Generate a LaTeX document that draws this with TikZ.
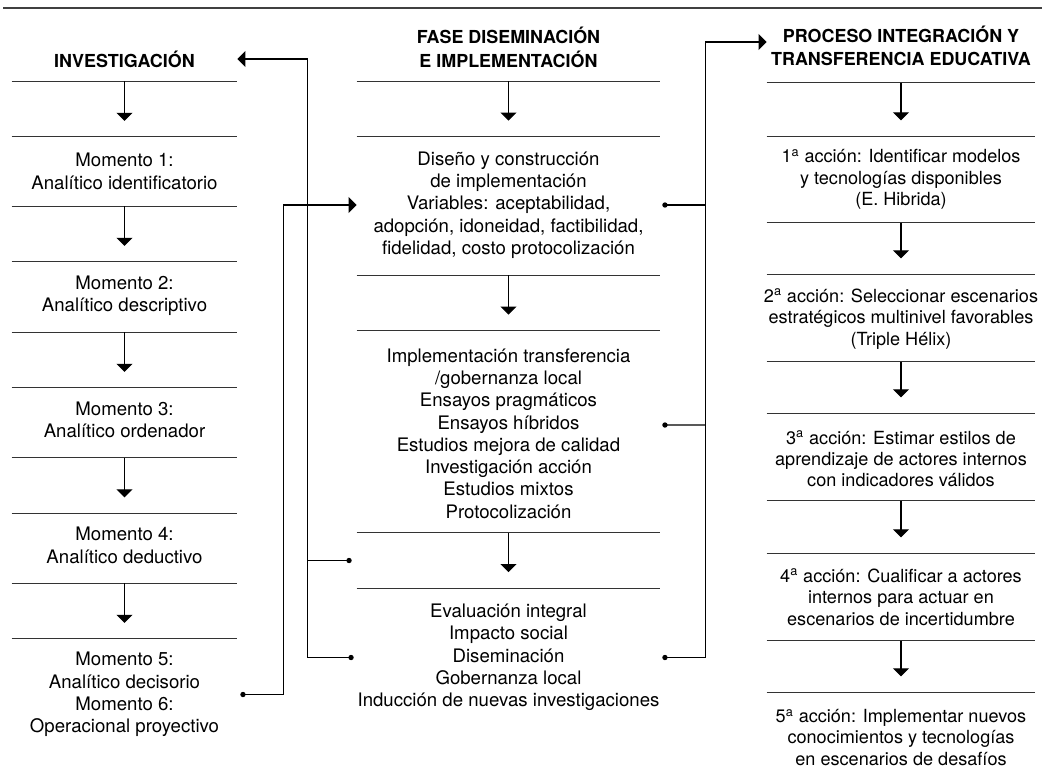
\documentclass[tikz,border=0pt]{standalone}
\usepackage{fontspec}
\setmainfont{TeX Gyre Heros}
\usetikzlibrary{arrows.meta,calc}
\tikzset{
  sepline/.style={line width=0.6pt, black!80},
  downarrow/.style={-{Triangle[length=4.6pt, width=9pt]}, line width=0.6pt},
  linkarrow/.style={{Circle[length=3pt]}-{Triangle[length=4.6pt, width=9pt]}, line width=0.6pt},
  linkline/.style={{Circle[length=3pt]}-, line width=0.6pt},
  headnode/.style={align=center, inner sep=0pt, font=\fontsize{10.2}{12.8}\selectfont\bfseries},
  invnode/.style={align=center, inner sep=0pt, minimum width=4.5cm, font=\fontsize{10.6}{12.75}\selectfont},
  fasenode/.style={align=center, inner sep=0pt, minimum width=6.06cm, font=\fontsize{10.6}{12.7}\selectfont},
  accnode/.style={align=center, inner sep=0pt, minimum width=5.36cm, font=\fontsize{10.3}{12.2}\selectfont},
  gapbox/.style={inner sep=0pt, minimum height=#1}
}

\begin{document}
\begin{tikzpicture}[x=0.02cm, y=-0.02cm]
  \useasboundingbox (0,0) rectangle (1042,779);
  \draw[line width=0.8pt, black!75] (3,8) -- (1042,8);

  \node[headnode, minimum width=4.5cm] (inv) at (124.5,59) {INVESTIGACIÓN};
  \node[invnode] (m1) at (124.5,171.5) {Momento 1:\\Analítico identificatorio};
  \node[invnode] (m2) at (124.5,296) {Momento 2:\\Analítico descriptivo};
  \node[invnode] (m3) at (124.5,420) {Momento 3:\\Analítico ordenador};
  \node[invnode] (m4) at (124.5,545.5) {Momento 4:\\Analítico deductivo};
  \node[invnode] (m56) at (124.5,694.5) {Momento 5:\\Analítico decisorio\\Momento 6:\\Operacional proyectivo};

  \node[headnode, minimum width=6.06cm, font=\fontsize{10.2}{13.6}\selectfont\bfseries] (fase) at (508.5,47) {FASE DISEMINACIÓN\\E IMPLEMENTACIÓN};
  \node[fasenode] (dis) at (508.5,205) {Diseño y construcción\\de implementación\\Variables: aceptabilidad,\\adopción, idoneidad, factibilidad,\\fidelidad, costo protocolización};
  \node[fasenode] (impl) at (508.5,433.5) {Implementación transferencia\\/gobernanza local\\Ensayos pragmáticos\\Ensayos híbridos\\Estudios mejora de calidad\\Investigación acción\\Estudios mixtos\\Protocolización};
  \node[fasenode] (evalu) at (508.5,657.5) {Evaluación integral\\Impacto social\\Diseminación\\Gobernanza local\\Inducción de nuevas investigaciones};

  \node[headnode, minimum width=5.36cm] (proc) at (901,46) {PROCESO INTEGRACIÓN Y\\TRANSFERENCIA EDUCATIVA};
  \node[accnode] (a1) at (901,179.5) {1\textsuperscript{a} acción: Identificar modelos\\y tecnologías disponibles\\(E. Hibrida)};
  \node[accnode] (a2) at (901,319) {2\textsuperscript{a} acción: Seleccionar escenarios\\estratégicos multinivel favorables\\(Triple Hélix)};
  \node[accnode] (a3) at (901,459) {3\textsuperscript{a} acción: Estimar estilos de\\aprendizaje de actores internos\\con indicadores válidos};
  \node[accnode] (a4) at (901,597) {4\textsuperscript{a} acción: Cualificar a actores\\internos para actuar en\\escenarios de incertidumbre};
  \node[accnode] (a5) at (901,737.5) {5\textsuperscript{a} acción: Implementar nuevos\\conocimientos y tecnologías\\en escenarios de desafíos};

  \foreach \n/\y in {ig1/109, ig2/234, ig3/360, ig4/485.5, ig5/611}
    \node[gapbox=1.1cm, minimum width=4.5cm] (\n) at (124.5,\y) {};
  \foreach \n/\y in {fg1/109, fg2/303, fg3/560.5}
    \node[gapbox=1.09cm, minimum width=6.06cm] (\n) at (508.5,\y) {};
  \foreach \n/\y/\h in {pg1/109.5/1.06cm, pg2/248.5/1.02cm, pg3/387.5/1.02cm, pg4/527/1.04cm, pg5/666.5/1.02cm}
    \node[gapbox=\h, minimum width=5.36cm] (\n) at (901,\y) {};

  \foreach \n in {ig1,ig2,ig3,ig4,ig5,fg1,fg2,fg3,pg1,pg2,pg3,pg4,pg5} {
    \draw[sepline] (\n.north west) -- (\n.north east) (\n.south west) -- (\n.south east);
    \draw[downarrow] (\n.north) -- ([yshift=0.32cm]\n.south);
  }

  \draw[linkarrow] ([xshift=0.06cm]m56.east) -- ($(m56.east)+(46,0)$) |- (dis.west);
  \draw[linkarrow] ([xshift=-0.06cm]evalu.west) -- ($(evalu.west)+(-49,0)$) |- (inv.east);
  \draw[linkline] ([xshift=-0.1cm]fg3.west) -- ($(fg3.west)+(-49,0)$);

  \draw[linkarrow] ([xshift=0.04cm]dis.east) -- ($(dis.east)+(45,0)$) |- ([yshift=0.08cm]proc.west);
  \draw[linkline] ([xshift=0.04cm, yshift=0.17cm]impl.east) -- ($(impl.east)+(45,-8.5)$);
  \draw[linkline] ([xshift=0.04cm]evalu.east) -- ($(evalu.east)+(45,0)$) -- ($(dis.east)+(45,0)$);
\end{tikzpicture}
\end{document}
